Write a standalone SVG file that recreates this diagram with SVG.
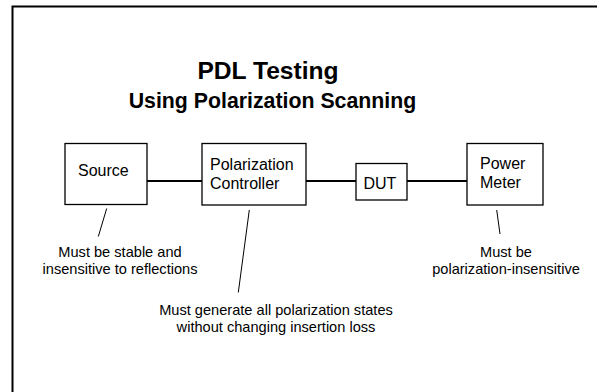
<svg xmlns="http://www.w3.org/2000/svg" width="597" height="392" viewBox="0 0 597 392">
<style>
.box{fill:#fff;stroke:#000;stroke-width:1.3}
.lbl{font-family:"Liberation Sans",Arial,sans-serif;font-size:16px;fill:#000}
.note{font-family:"Liberation Sans",Arial,sans-serif;font-size:14.6px;fill:#000;text-anchor:middle}
.title{font-family:"Liberation Sans",Arial,sans-serif;font-weight:bold;fill:#000;text-anchor:middle}
.wire{stroke:#000;stroke-width:2;fill:none}
.lead{stroke:#000;stroke-width:1;fill:none}
</style>
<rect x="0" y="0" width="597" height="392" fill="#fff"/>
<path d="M12.5,392 V6.5 H597" fill="none" stroke="#000" stroke-width="2"/>
<g id="title">
<text class="title" x="268" y="79" font-size="24.6">PDL Testing</text>
<text class="title" x="272.5" y="108" font-size="21.3">Using Polarization Scanning</text>
</g>
<g id="connectors">
<line class="wire" x1="147" y1="181" x2="202" y2="181"/>
<line class="wire" x1="306" y1="181" x2="356" y2="181"/>
<line class="wire" x1="407" y1="181" x2="467" y2="181"/>
<line class="lead" x1="106.7" y1="208.5" x2="98.3" y2="236.5"/>
<line class="lead" x1="249.3" y1="210" x2="238.3" y2="292.5"/>
<line class="lead" x1="496.7" y1="210" x2="500" y2="234"/>
</g>
<g id="source">
<rect class="box" x="65" y="143.5" width="82" height="61"/>
<text class="lbl" x="78" y="176">Source</text>
</g>
<g id="polarization-controller">
<rect class="box" x="202" y="143.5" width="104" height="61.5"/>
<text class="lbl" x="210" y="169.5">Polarization</text>
<text class="lbl" x="210" y="188.5">Controller</text>
</g>
<g id="dut">
<rect class="box" x="356" y="163.5" width="51" height="36.5"/>
<text class="lbl" x="363.5" y="188.5">DUT</text>
</g>
<g id="power-meter">
<rect class="box" x="467" y="143.5" width="76" height="61.5"/>
<text class="lbl" x="480" y="168.5">Power</text>
<text class="lbl" x="480" y="187.5">Meter</text>
</g>
<g id="notes">
<text class="note" x="120" y="257">Must be stable and</text>
<text class="note" x="120" y="274">insensitive to reflections</text>
<text class="note" x="276" y="315">Must generate all polarization states</text>
<text class="note" x="276" y="331.5">without changing insertion loss</text>
<text class="note" x="506" y="257">Must be</text>
<text class="note" x="506" y="274">polarization-insensitive</text>
</g>
</svg>
